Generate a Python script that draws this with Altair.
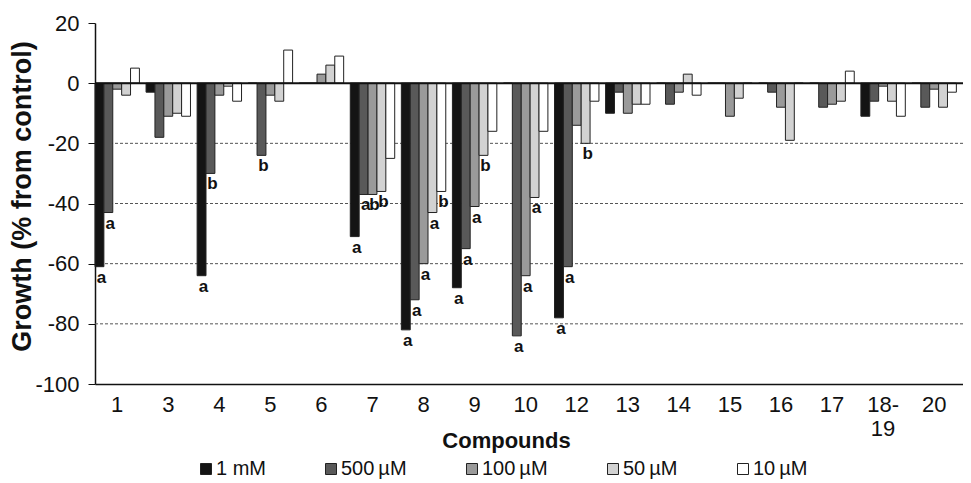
import altair as alt
import pandas as pd

compounds = ["1", "3", "4", "5", "6", "7", "8", "9", "10", "12", "13", "14",
             "15", "16", "17", "18-19", "20"]
concs = ["1 mM", "500\u2009µM", "100\u2009µM", "50\u2009µM", "10\u2009µM"]
colors = ["#141414", "#595959", "#9a9a9a", "#d2d2d2", "#ffffff"]

v_1mM = [-61, -3, -64, 0, 0, -51, -82, -68, 0, -78, -10, 0, 0, 0, 0, -11, 0]
v_500 = [-43, -18, -30, -24, 0, -37, -72, -55, -84, -61, -3, -7, 0, -3, -8, -6, -8]
v_100 = [-2, -11, -4, -4, 3, -37, -60, -41, -64, -14, -10, -3, -11, -8, -7, -1, -2]
v_50 = [-4, -10, -1, -6, 6, -36, -43, -24, -38, -20, -7, 3, -5, -19, -6, -6, -8]
v_10 = [5, -11, -6, 11, 9, -25, -36, -16, -16, -6, -7, -4, 0, 0, 4, -11, -3]

l_1mM = ["a", "", "a", "", "", "a", "a", "a", "", "a", "", "", "", "", "", "", ""]
l_500 = ["a", "", "b", "b", "", "a", "a", "a", "a", "a", "", "", "", "", "", "", ""]
l_100 = ["", "", "", "", "", "b", "a", "a", "a", "", "", "", "", "", "", "", ""]
l_50 = ["", "", "", "", "", "b", "a", "b", "a", "b", "", "", "", "", "", "", ""]
l_10 = ["", "", "", "", "", "", "b", "", "", "", "", "", "", "", "", "", ""]

grid_values = [-20, -40, -60, -80]
y_ticks = [20, 0, -20, -40, -60, -80, -100]

rows = []
for conc, vals, labs in zip(concs, [v_1mM, v_500, v_100, v_50, v_10],
                            [l_1mM, l_500, l_100, l_50, l_10]):
    for c, v, l in zip(compounds, vals, labs):
        rows.append({"compound": c, "conc": conc, "value": v, "letter": l})
df = pd.DataFrame(rows)
letters_df = df[df["letter"] != ""]

FONT = "Liberation Sans"

x_enc = alt.X(
    "compound:N", sort=compounds,
    scale=alt.Scale(paddingInner=0.13, paddingOuter=0.065, align=0),
    axis=alt.Axis(
        title="Compounds", ticks=False, tickSize=0, labelAngle=0,
        labelFontSize=22, labelPadding=10, labelColor="#111",
        labelLineHeight=24, bandPosition=0.575,
        labelExpr="datum.label == '18-19' ? ['18-', '19'] : datum.label",
        domainColor="#111", domainWidth=1.5,
        titleFontSize=22, titleFontWeight="bold", titleColor="#111",
        titleY=56, titleX=411, titleBaseline="middle",
    ),
)
xoff_enc = alt.XOffset("conc:N", sort=concs,
                       scale=alt.Scale(paddingInner=0, paddingOuter=0))
y_scale = alt.Scale(domain=[-100, 20], nice=False, zero=False)

grid = alt.Chart(pd.DataFrame({"g": grid_values})).mark_rule(
    color="#555", strokeDash=[3, 2], strokeWidth=1
).encode(y=alt.Y("g:Q", scale=y_scale))

bars = alt.Chart(df).mark_bar(stroke="#222", strokeWidth=1).encode(
    x=x_enc,
    xOffset=xoff_enc,
    y=alt.Y(
        "value:Q", scale=y_scale,
        axis=alt.Axis(
            values=y_ticks, grid=False, tickSize=7, tickColor="#111",
            labelFontSize=22, labelPadding=9, labelColor="#111",
            labelExpr="'' + datum.value",
            domainColor="#111", domainWidth=1.5,
            title="Growth (% from control)", titleFontSize=27,
            titleFontWeight="bold", titleColor="#111",
            titleX=-73, titleY=173, titleBaseline="middle",
        ),
    ),
    color=alt.Color(
        "conc:N", sort=concs,
        scale=alt.Scale(domain=concs, range=colors),
        legend=alt.Legend(
            title=None, orient="none", legendX=101, legendY=436,
            direction="horizontal", columns=5, gridAlign="each",
            columnPadding=55, symbolType="square", symbolSize=121,
            symbolStrokeColor="#222", symbolStrokeWidth=1, symbolOpacity=1,
            labelFontSize=20, labelColor="#111", labelOffset=0, padding=0,
        ),
    ),
)

zero = alt.Chart(pd.DataFrame({"z": [0]})).mark_rule(
    color="#111", strokeWidth=2
).encode(y=alt.Y("z:Q", scale=y_scale))

letters = alt.Chart(letters_df).mark_text(
    fontWeight="bold", fontSize=17, baseline="top", dy=3, dx=2, color="#111"
).encode(
    x=x_enc,
    xOffset=xoff_enc,
    y=alt.Y("value:Q", scale=y_scale),
    text="letter:N",
)

chart = alt.layer(grid, bars, zero, letters).properties(
    width=868, height=361,
    autosize=alt.AutoSizeParams(type="none"),
    padding={"left": 87, "top": 15, "right": 0, "bottom": 96},
).configure(font=FONT).configure_view(stroke=None)

chart.save("out.html", embed_options={"renderer": "svg", "actions": False})
